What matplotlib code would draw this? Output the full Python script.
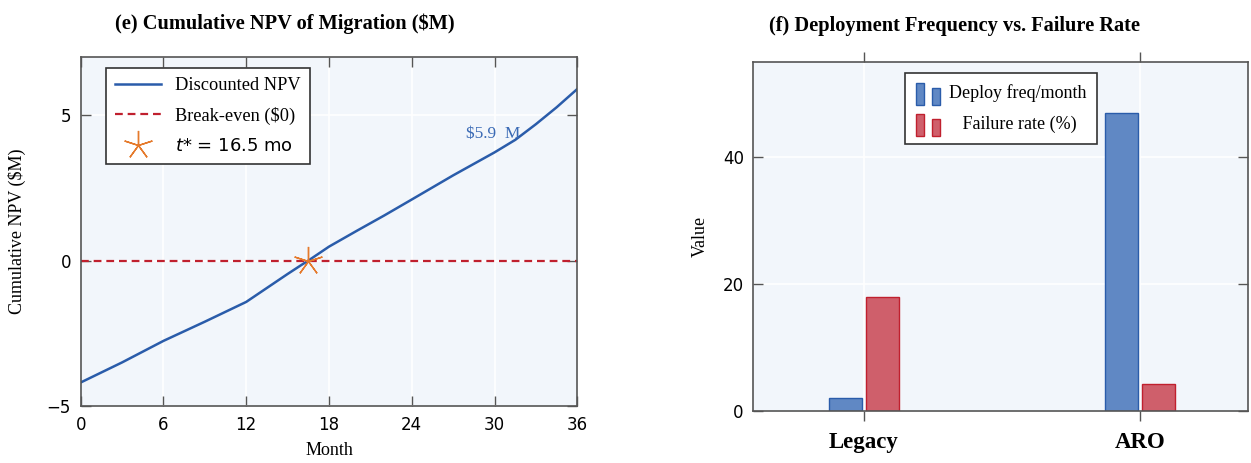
import matplotlib
matplotlib.use('Agg')
import matplotlib.pyplot as plt
from matplotlib.legend_handler import HandlerBase
from matplotlib.patches import Rectangle

# panel (e): cumulative NPV
months = [0, 3, 6, 9, 12, 14, 15, 16, 16.5, 18, 20, 22, 24, 27, 30, 31.5, 33, 34.5, 36]
npv = [-4.19, -3.50, -2.76, -2.10, -1.42, -0.78, -0.46, -0.15, 0.0, 0.48, 1.02,
       1.55, 2.10, 2.93, 3.72, 4.15, 4.69, 5.27, 5.90]
t_star = 16.5
final_label = r'\$5.9  M'

# panel (f): deployment metrics
groups = ['Legacy', 'ARO']
deploy_freq = [2, 47]
failure_rate = [18, 4.2]

BG = '#f2f6fb'
BLUE = '#2a5caa'
RED = '#c0202e'
ORANGE = '#e57a2c'
SERIF = 'Liberation Serif'
SANS = 'DejaVu Sans'


class TwoBars(HandlerBase):
    # pgfplots-style ybar legend image: two little bars
    def create_artists(self, legend, orig, xd, yd, w, h, fontsize, trans):
        p = orig.patches[0]
        fc, ec = p.get_facecolor(), p.get_edgecolor()
        bw = w * 0.33
        a = Rectangle((-xd, -yd - 0.55 * h), bw, h * 1.75, fc=fc, ec=ec, lw=1, transform=trans)
        b = Rectangle((-xd + w * 0.67, -yd - 0.55 * h), bw, h * 1.35, fc=fc, ec=ec, lw=1, transform=trans)
        return [a, b]


def style(ax):
    ax.set_facecolor(BG)
    ax.grid(True, color='white', lw=1.2)
    ax.set_axisbelow(True)
    for s in ax.spines.values():
        s.set_color('#555555')
        s.set_linewidth(1.2)
    for lab in ax.get_xticklabels() + ax.get_yticklabels():
        lab.set_family(SANS)


fig = plt.figure(figsize=(12.51, 4.63), dpi=100)

# ---- (e) ----
ax1 = fig.add_axes([0.0645, 0.123, 0.397, 0.754])
ax1.plot(months, npv, color=BLUE, lw=1.8, label='Discounted NPV')
ax1.axhline(0, color=RED, lw=1.6, ls=(0, (3.5, 2.2)), label='Break-even (\\$0)')
ax1.plot([t_star], [0], ls='none', marker=(5, 2, 0), ms=21, mew=1.0,
         color=ORANGE, label='$t$* = 16.5 mo')
ax1.text(27.9, 4.36, final_label, color='#3a6ab5', fontsize=12.5, family=SERIF,
         va='center', ha='left')
ax1.set_xlim(0, 36)
ax1.set_ylim(-5, 7)
ax1.set_xticks([0, 6, 12, 18, 24, 30, 36])
ax1.set_yticks([-5, 0, 5])
ax1.tick_params(direction='in', length=7, width=1, color='#555555',
                top=True, right=True, labelsize=12, pad=7)
style(ax1)
ax1.set_title('(e) Cumulative NPV of Migration (\\$M)', family=SERIF,
              fontweight='bold', fontsize=14.7, pad=20, x=0.411)
ax1.set_xlabel('Month', family=SERIF, fontsize=13, labelpad=6)
ax1.set_ylabel('Cumulative NPV (\\$M)', family=SERIF, fontsize=13, labelpad=15)
leg1 = ax1.legend(loc='upper left', bbox_to_anchor=(0.05, 0.968), borderaxespad=0,
                  fancybox=False, framealpha=1, edgecolor='#333333',
                  prop={'family': SERIF, 'size': 13.2}, handlelength=2.5,
                  labelspacing=0.68, borderpad=0.5)
leg1.get_frame().set_linewidth(1.2)
leg1.get_texts()[2].set_family(SANS)
leg1.get_texts()[2].set_fontsize(13)

# ---- (f) ----
ax2 = fig.add_axes([0.6023, 0.1125, 0.3955, 0.754])
x = range(len(groups))
bw = 0.117
off = 0.067
b1 = ax2.bar([i - off for i in x], deploy_freq, bw, color='#6088c4', edgecolor=BLUE,
             lw=1, label='Deploy freq/month')
b2 = ax2.bar([i + off for i in x], failure_rate, bw, color='#cf5f6b', edgecolor=RED,
             lw=1, label='   Failure rate (%)')
ax2.set_xlim(-0.4, 1.392)
ax2.set_ylim(0, 55)
ax2.set_xticks(list(x))
ax2.set_xticklabels(groups)
ax2.set_yticks([0, 20, 40])
ax2.tick_params(axis='y', direction='in', length=7, width=1, color='#555555',
                right=True, labelsize=12, pad=7)
ax2.tick_params(axis='x', direction='out', length=7, width=1, color='#555555',
                top=True, pad=8)
style(ax2)
for lab in ax2.get_xticklabels():
    lab.set_family(SERIF)
    lab.set_fontweight('bold')
    lab.set_fontsize(16.5)
ax2.set_title('(f) Deployment Frequency vs. Failure Rate', family=SERIF,
              fontweight='bold', fontsize=14.7, pad=22, x=0.407)
ax2.set_ylabel('Value', family=SERIF, fontsize=13, labelpad=10)
leg2 = ax2.legend(handles=[b1, b2], handler_map={b1: TwoBars(), b2: TwoBars()},
                  loc='upper left', bbox_to_anchor=(0.306, 0.968), borderaxespad=0,
                  fancybox=False, framealpha=1, edgecolor='#333333',
                  prop={'family': SERIF, 'size': 13}, handlelength=1.35,
                  labelspacing=0.8, borderpad=0.6, handletextpad=0.5)
leg2.get_frame().set_linewidth(1.2)

fig.savefig('out.png', dpi=100)
